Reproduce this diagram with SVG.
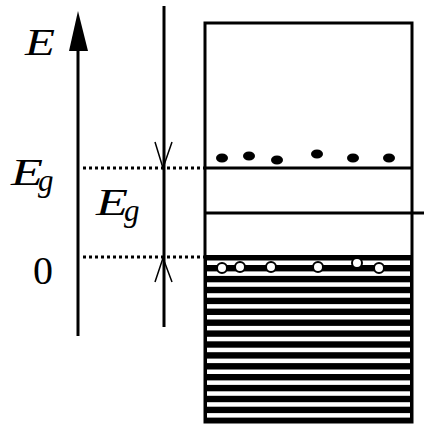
<svg xmlns="http://www.w3.org/2000/svg" width="424" height="425" viewBox="0 0 424 425">
<style>
.ln{stroke:#000;stroke-width:3;fill:none}
.thin{stroke:#000;stroke-width:1.5;fill:none}
.dot{stroke:#000;stroke-width:3;stroke-dasharray:3 3;fill:none}
.it{font-family:"Liberation Serif","DejaVu Serif",serif;font-style:italic;fill:#000}
.rm{font-family:"Liberation Serif","DejaVu Serif",serif;fill:#000}
.el{fill:#000}
.ho{fill:#fff;stroke:#000;stroke-width:2}
.ws{fill:#fff}
</style>
<rect width="424" height="425" fill="#fff"/>
<g id="energy-axis">
<line class="ln" x1="78" y1="50" x2="78" y2="336"/>
<polygon points="78,11 69,51 88,51" fill="#000"/>
<text class="it" x="25" y="55" font-size="38" textLength="30" lengthAdjust="spacingAndGlyphs">E</text>
</g>
<g id="gap-measure">
<line class="ln" x1="164" y1="6" x2="164" y2="327"/>
<polyline class="thin" points="155,142 163,168 172,142"/>
<polyline class="thin" points="155,282 163,258 172,282"/>
</g>
<g id="labels">
<text class="it" x="11" y="185" font-size="38" textLength="32" lengthAdjust="spacingAndGlyphs">E</text>
<text class="it" x="38" y="191" font-size="31">g</text>
<text class="it" x="96" y="215" font-size="38" textLength="32" lengthAdjust="spacingAndGlyphs">E</text>
<text class="it" x="124" y="221" font-size="31">g</text>
<text class="rm" x="33" y="284" font-size="40">0</text>
</g>
<g id="connectors">
<line class="dot" x1="83" y1="168" x2="204" y2="168"/>
<line class="dot" x1="83" y1="257" x2="204" y2="257"/>
</g>
<g id="band-box">
<rect x="205" y="255" width="207" height="167" fill="#000"/>
<g class="ws">
<rect x="207" y="260.5" width="203" height="4.5"/>
<rect x="207" y="271.4" width="203" height="4.5"/>
<rect x="207" y="282.3" width="203" height="4.5"/>
<rect x="207" y="293.2" width="203" height="4.5"/>
<rect x="207" y="304.1" width="203" height="4.5"/>
<rect x="207" y="315.0" width="203" height="4.5"/>
<rect x="207" y="325.9" width="203" height="4.5"/>
<rect x="207" y="336.8" width="203" height="4.5"/>
<rect x="207" y="347.7" width="203" height="4.5"/>
<rect x="207" y="358.6" width="203" height="4.5"/>
<rect x="207" y="369.5" width="203" height="4.5"/>
<rect x="207" y="380.4" width="203" height="4.5"/>
<rect x="207" y="391.3" width="203" height="4.5"/>
<rect x="207" y="402.2" width="203" height="4.5"/>
<rect x="207" y="413.1" width="203" height="4.5"/>
</g>
<rect class="ln" x="205" y="23" width="207" height="399"/>
<line class="ln" x1="205" y1="168" x2="412" y2="168"/>
<line class="ln" x1="205" y1="213" x2="424" y2="213"/>
</g>
<g id="electrons">
<ellipse class="el" cx="222" cy="158" rx="6" ry="4.5"/>
<ellipse class="el" cx="249" cy="156" rx="6" ry="4.5"/>
<ellipse class="el" cx="277" cy="160" rx="6" ry="4.5"/>
<ellipse class="el" cx="317" cy="154" rx="6" ry="4.5"/>
<ellipse class="el" cx="353" cy="158" rx="6" ry="4.5"/>
<ellipse class="el" cx="389" cy="158" rx="6" ry="4.5"/>
</g>
<g id="holes">
<circle class="ho" cx="222" cy="268" r="5"/>
<circle class="ho" cx="240" cy="267" r="5"/>
<circle class="ho" cx="271" cy="267" r="5"/>
<circle class="ho" cx="318" cy="267" r="5"/>
<circle class="ho" cx="357" cy="263" r="5"/>
<circle class="ho" cx="379" cy="268" r="5"/>
</g>
</svg>
